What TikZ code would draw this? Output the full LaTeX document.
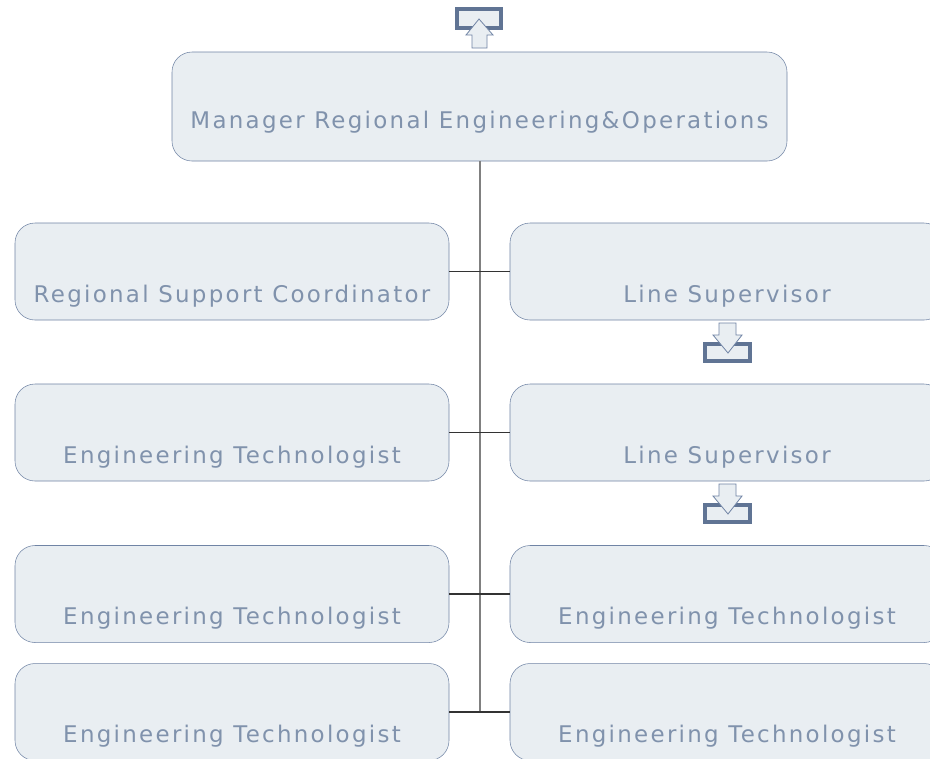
\documentclass[tikz,border=0pt]{standalone}
\usepackage{fontspec}
\setmainfont{DejaVu Sans}[LetterSpace=10]
\definecolor{boxfill}{RGB}{233,238,242}
\definecolor{boxline}{RGB}{112,132,165}
\definecolor{boxtext}{RGB}{128,146,172}
\definecolor{iconline}{RGB}{96,116,148}

\begin{document}
\begin{tikzpicture}[x=0.75pt,y=-0.75pt,
   post/.style={draw=boxline,fill=boxfill,rounded corners=15pt,inner sep=0pt,
     minimum width=325.5pt,text=boxtext,font=\fontsize{17.2}{20}\selectfont,
     text height=59.25pt,text depth=13.5pt},
   head/.style={post,minimum width=461.25pt,text height=57pt,text depth=24.75pt},
   trunk/.style={draw=black!50,line width=1.5pt},
   branch/.style={draw=black!80,line width=1pt},
   tray/.style={draw=iconline,fill=boxfill,line width=3.5pt},
   shaft/.style={draw=boxline,fill=boxfill,line width=0.6pt}]
\clip (0,0) rectangle (930,758);
\fill[white] (0,0) rectangle (930,758);
\node[head] (mgr) at (479.5,106.5) {Manager Regional Engineering\&Operations};
\node[post] (rsc) at (232,271.5) {Regional Support Coordinator};
\node[post] (ls1) at (727,271.5) {Line Supervisor};
\node[post] (et1) at (232,432.5) {Engineering Technologist};
\node[post] (ls2) at (727,432.5) {Line Supervisor};
\node[post] (et2) at (232,594) {Engineering Technologist};
\node[post] (et3) at (727,594) {Engineering Technologist};
\node[post] (et4) at (232,712) {Engineering Technologist};
\node[post] (et5) at (727,712) {Engineering Technologist};
\coordinate (end) at (mgr.south |- et4.east);
\draw[trunk] (mgr.south) -- (end);
\draw[branch] (rsc.east) -- (ls1.west);
\draw[branch] (et1.east) -- (ls2.west);
\draw[branch] (et2.east) -- (et3.west);
\draw[branch] (et4.east) -- (et5.west);
\draw[tray] (457,9) rectangle (501,28);
\draw[shaft] (472,48) -- (472,35) -- (466,35) -- (479,19) -- (493,35) -- (487,35) -- (487,48) -- cycle;
\foreach \y in {0,161}{
  \draw[tray] (705,{344+\y}) rectangle (750,{361+\y});
  \draw[shaft] (719,{323+\y}) -- (736,{323+\y}) -- (736,{335+\y}) -- (742,{335+\y})
    -- (728,{353+\y}) -- (713,{335+\y}) -- (719,{335+\y}) -- cycle;
}
\end{tikzpicture}
\end{document}
